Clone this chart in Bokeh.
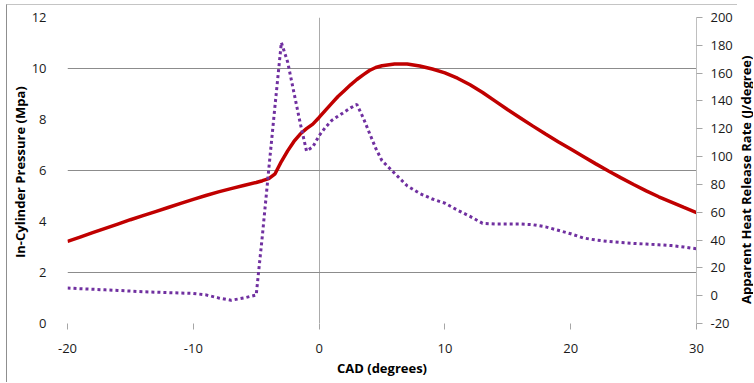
import math

from bokeh.core.properties import value
from bokeh.embed import file_html
from bokeh.layouts import row
from bokeh.models import FixedTicker, LinearAxis, Range1d
from bokeh.plotting import figure
from bokeh.resources import INLINE

# Crank angle (degrees), finer steps around the start of combustion
cad = [-20, -19, -18, -17, -16, -15, -14, -13, -12, -11, -10, -9, -8, -7, -6,
       -5, -4.5, -4, -3.5, -3, -2.5, -2, -1.5, -1, -0.5, 0, 0.5, 1, 1.5, 2,
       2.5, 3, 3.5, 4, 4.5, 5, 6, 7, 8, 9, 10, 11, 12, 13, 14, 15, 16, 17, 18,
       19, 20, 21, 22, 23, 24, 25, 26, 27, 28, 29, 30]

# In-cylinder pressure (MPa)
pressure = [3.22, 3.39, 3.56, 3.73, 3.90, 4.07, 4.23, 4.39, 4.55, 4.71, 4.87,
            5.02, 5.16, 5.29, 5.41, 5.53, 5.60, 5.68, 5.87, 6.35, 6.77, 7.14,
            7.43, 7.64, 7.82, 8.08, 8.36, 8.63, 8.90, 9.13, 9.36, 9.57, 9.75,
            9.92, 10.04, 10.11, 10.18, 10.18, 10.10, 9.98, 9.83, 9.62, 9.36,
            9.06, 8.72, 8.38, 8.06, 7.74, 7.43, 7.13, 6.84, 6.55, 6.26, 5.98,
            5.71, 5.45, 5.20, 4.97, 4.76, 4.55, 4.35]

# Apparent heat release rate (J/degree)
hrr = [5.5, 5.0, 4.6, 4.2, 3.8, 3.3, 2.8, 2.5, 2.2, 1.9, 1.6, 0.6, -1.6, -3.3,
       -1.7, 0.5, 44, 91, 137, 182, 168, 146, 124, 104, 107, 115, 121, 126,
       129, 132, 135, 137.5, 128, 117, 106, 97, 88, 79, 73.5, 69.5, 66.5,
       61.5, 57, 52, 51.5, 51.5, 51.5, 51, 49.5, 47, 44.5, 41.5, 40, 39,
       38.2, 37.6, 37.1, 36.6, 36, 35, 33.7]

x_ticks = [-20, -10, 0, 10, 20, 30]
p_ticks = [0, 2, 4, 6, 8, 10, 12]
hrr_ticks = [-20, 0, 20, 40, 60, 80, 100, 120, 140, 160, 180, 200]

hrr_title = "Apparent Heat Release Rate (J/degree)"

TICK_FONT = "Open Sans"
TITLE_FONT = "Open Sans"


def plain_labels(ticks):
    # ASCII hyphen for negative numbers
    return {t: str(t) for t in ticks}


# main chart; the canvas sits 7px in / 5px down, chart-area border via CSS
p = figure(width=731, height=378, output_backend="svg", toolbar_location=None,
           x_range=Range1d(-20, 30), y_range=Range1d(0, 12),
           min_border_left=58, min_border_right=42, min_border_top=12,
           min_border_bottom=60, outline_line_color=None,
           background_fill_color="white", border_fill_color="white",
           styles={"margin-left": "6px", "margin-top": "4px",
                   "border-left": "1px solid #8f8f8f",
                   "border-top": "1px solid #c4c4c4"})
p.extra_y_ranges = {"hrr": Range1d(-20, 200)}

# grid: a few horizontal pressure lines and the TDC line
p.ygrid.ticker = FixedTicker(ticks=[2, 6, 10, 12])
p.ygrid.grid_line_color = "#8c8c8c"
p.ygrid.grid_line_width = 1
p.xgrid.ticker = FixedTicker(ticks=[0])
p.xgrid.grid_line_color = "#ababab"
p.xgrid.grid_line_width = 1

# bottom axis
xa = p.xaxis[0]
xa.ticker = FixedTicker(ticks=x_ticks)
xa.major_label_overrides = plain_labels(x_ticks)
xa.axis_line_color = None
xa.major_tick_line_color = "#a6a6a6"
xa.major_tick_in = 0
xa.major_tick_out = 6
xa.minor_tick_line_color = None
xa.major_label_standoff = 14
xa.axis_label = "CAD (degrees)"
xa.axis_label_standoff = 3

# left axis (pressure)
ya = p.yaxis[0]
ya.ticker = FixedTicker(ticks=p_ticks)
ya.axis_line_color = None
ya.major_tick_line_color = None
ya.minor_tick_line_color = None
ya.major_label_standoff = 15
ya.axis_label = "In-Cylinder Pressure  (Mpa)"
ya.axis_label_standoff = 0

# right axis (heat release rate); its title is set in the side strip below
ra = LinearAxis(y_range_name="hrr", ticker=FixedTicker(ticks=hrr_ticks))
ra.major_label_overrides = plain_labels(hrr_ticks)
ra.axis_line_color = "#bfbfbf"
ra.major_tick_line_color = "#a6a6a6"
ra.major_tick_in = 0
ra.major_tick_out = 6
ra.minor_tick_line_color = None
ra.major_label_standoff = 8
p.add_layout(ra, "right")

for ax in (xa, ya, ra):
    ax.major_label_text_font = TICK_FONT
    ax.major_label_text_font_size = "13px"
    ax.major_label_text_color = "#1a1a1a"
    ax.axis_label_text_font = TITLE_FONT
    ax.axis_label_text_font_size = "13px"
    ax.axis_label_text_font_style = "bold"
    ax.axis_label_text_color = "#000000"

p.line(cad, pressure, line_color="#C00000", line_width=3.5)
p.line(cad, hrr, y_range_name="hrr", line_color="#7030A0", line_width=3,
       line_dash="3 3")

# narrow strip to the right holding the HRR title, reading bottom to top
side = figure(width=16, height=383, output_backend="svg",
              toolbar_location=None, x_range=Range1d(0, 16),
              y_range=Range1d(0, 383), x_axis_type=None, y_axis_type=None,
              min_border=0, min_border_left=0, min_border_right=0,
              min_border_top=0, min_border_bottom=0, outline_line_color=None,
              background_fill_color="white", border_fill_color="white")
side.xgrid.visible = False
side.ygrid.visible = False
side.text(x=[8], y=[177], text=[hrr_title], angle=math.pi / 2,
          text_align="center", text_baseline="middle",
          text_font=value(TITLE_FONT), text_font_size=value("13px"),
          text_font_style=value("bold"), text_color="#000000")

layout = row(p, side, spacing=0)

open("out.html", "w").write(file_html(layout, INLINE))
